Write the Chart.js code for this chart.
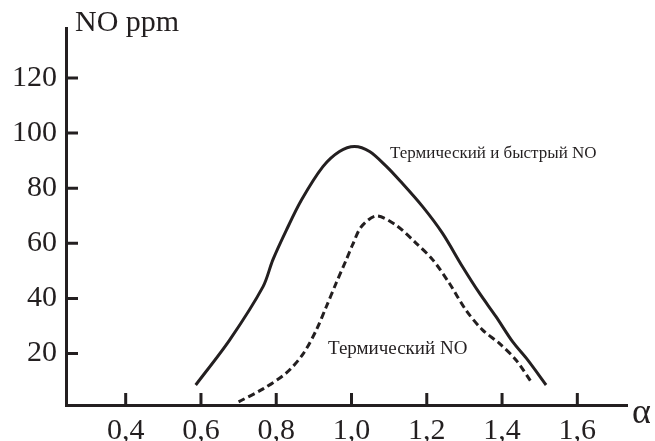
<!DOCTYPE html>
<html lang="ru">
<head>
  <meta charset="UTF-8">
  <title>NO ppm — α</title>
  <script src="https://cdn.jsdelivr.net/npm/chart.js"></script>
  <style>
    html, body { margin: 0; padding: 0; background: #fff; }
    #wrap { width: 655px; height: 441px; }
  </style>
</head>
<body>
  <div id="wrap"><canvas id="noChart"></canvas></div>

  <script>
    // термический и быстрый NO
    const totalAlpha = [0.586, 0.676, 0.765, 0.791, 0.827, 0.867, 0.924, 0.968, 1.008, 1.048, 1.092, 1.130, 1.189, 1.242, 1.295, 1.340, 1.384, 1.428, 1.468, 1.517];
    const totalNO    = [8.6, 24.9, 44.3, 54.0, 64.8, 75.7, 87.8, 93.3, 95.1, 93.3, 88.0, 82.5, 73.3, 63.6, 51.5, 41.9, 33.4, 24.3, 17.7, 8.6];

    // только термический NO
    const thermalAlpha = [0.700, 0.765, 0.827, 0.871, 0.906, 0.933, 0.959, 0.986, 1.003, 1.026, 1.066, 1.119, 1.172, 1.216, 1.260, 1.304, 1.348, 1.393, 1.437, 1.477];
    const thermalNO    = [2.5, 7.2, 13.0, 19.8, 28.4, 37.0, 45.5, 54.0, 59.5, 66.0, 69.9, 66.5, 60.0, 54.0, 45.5, 35.8, 28.6, 23.7, 17.7, 9.8];

    const xTicks = [0.4, 0.6, 0.8, 1.0, 1.2, 1.4, 1.6];
    const yTicks = [20, 40, 60, 80, 100, 120];

    const ink = '#231f20';
    const serif = '"Liberation Serif", "DejaVu Serif", serif';

    const toPts = (xs, ys) => xs.map((x, i) => ({ x, y: ys[i] }));

    // засечки внутрь осей и подписи
    const decor = {
      id: 'decor',
      afterDraw(chart) {
        const { ctx, chartArea: a, scales: { x, y } } = chart;
        ctx.save();
        ctx.strokeStyle = ink;
        ctx.lineWidth = 3;
        ctx.beginPath();
        xTicks.forEach(v => {
          const px = x.getPixelForValue(v);
          ctx.moveTo(px, a.bottom);
          ctx.lineTo(px, a.bottom - 12);
        });
        yTicks.forEach(v => {
          const py = y.getPixelForValue(v);
          ctx.moveTo(a.left, py);
          ctx.lineTo(a.left + 12, py);
        });
        ctx.stroke();

        ctx.fillStyle = ink;
        ctx.textBaseline = 'alphabetic';
        ctx.textAlign = 'left';
        ctx.font = '30px ' + serif;
        ctx.fillText('NO ppm', a.left + 9, 31);
        ctx.font = '36px ' + serif;
        ctx.fillText('α', a.right + 5, 423);

        ctx.font = '17px ' + serif;
        ctx.fillText('Термический и быстрый NO', 390, 158);
        ctx.font = '19px ' + serif;
        ctx.fillText('Термический NO', 328, 354);
        ctx.restore();
      }
    };

    new Chart(document.getElementById('noChart'), {
      type: 'line',
      data: {
        datasets: [
          {
            label: 'Термический и быстрый NO',
            data: toPts(totalAlpha, totalNO),
            borderColor: ink,
            borderWidth: 3,
            pointRadius: 0,
            tension: 0.3
          },
          {
            label: 'Термический NO',
            data: toPts(thermalAlpha, thermalNO),
            borderColor: ink,
            borderWidth: 3,
            borderDash: [7, 4],
            pointRadius: 0,
            tension: 0.3
          }
        ]
      },
      options: {
        responsive: true,
        maintainAspectRatio: false,
        animation: false,
        layout: { padding: { top: 28, right: 28, left: 0, bottom: 0 } },
        plugins: { legend: { display: false }, tooltip: { enabled: false } },
        scales: {
          x: {
            type: 'linear',
            min: 0.2414,
            max: 1.732,
            afterBuildTicks: s => { s.ticks = xTicks.map(v => ({ value: v })); },
            afterFit: s => { s.height = 36; },
            grid: { display: false, drawTicks: false },
            border: { display: true, color: ink, width: 3 },
            ticks: {
              color: ink,
              padding: 8,
              maxRotation: 0,
              font: { family: serif, size: 30 },
              callback: v => v.toFixed(1).replace('.', ',')
            }
          },
          y: {
            min: 1.35,
            max: 138.1,
            afterBuildTicks: s => { s.ticks = yTicks.map(v => ({ value: v })); },
            afterFit: s => { s.width = 66; },
            grid: { display: false, drawTicks: false },
            border: { display: true, color: ink, width: 3 },
            ticks: {
              color: ink,
              padding: 9,
              font: { family: serif, size: 30 }
            }
          }
        }
      },
      plugins: [decor]
    });
  </script>
</body>
</html>
